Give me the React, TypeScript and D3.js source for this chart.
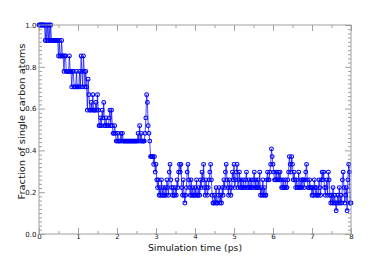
import * as d3 from 'd3';
import React, { useRef, useEffect } from 'react';

// fraction of single C atoms, stored as atom counts out of 27, one value every 0.02 ps
const TOTAL_ATOMS = 27;
const SAMPLE_DT = 0.02;

const atoms0to1 = [
  27, 27, 27, 27, 27, 27, 27, 27, 25, 27, 25, 27, 25, 27, 25, 27, 25, 25, 25, 25, 25, 25, 25, 25, 25,
  23, 25, 23, 23, 25, 23, 23, 21, 23, 23, 21, 21, 21, 21, 23, 21, 21, 19, 21, 21, 19, 19, 19, 21, 19,
];
const atoms1to2 = [
  19, 19, 21, 19, 23, 21, 19, 23, 21, 19, 21, 19, 16, 20, 18, 16, 16, 17, 16, 18, 16, 16, 16, 17, 16,
  18, 16, 14, 14, 15, 14, 16, 15, 17, 14, 14, 15, 14, 14, 14, 15, 16, 14, 16, 14, 13, 13, 14, 13, 12,
];
const atoms2to3 = [
  12, 13, 12, 12, 12, 13, 12, 13, 12, 12, 12, 12, 12, 12, 12, 12, 12, 12, 12, 12, 12, 12, 12, 12, 12,
  12, 12, 13, 12, 14, 12, 13, 12, 12, 12, 12, 13, 15, 18, 17, 14, 13, 12, 10, 10, 10, 10, 9, 10, 8,
];
const atoms3to4 = [
  9, 7, 6, 7, 5, 6, 5, 7, 5, 6, 5, 5, 6, 5, 7, 6, 5, 8, 9, 7, 6, 5, 6, 5, 5,
  6, 5, 7, 6, 8, 9, 8, 9, 6, 5, 7, 5, 4, 5, 6, 8, 9, 7, 6, 5, 7, 5, 6, 5, 5,
];
const atoms4to5 = [
  6, 5, 7, 5, 5, 6, 5, 7, 6, 8, 7, 9, 6, 5, 7, 6, 5, 6, 7, 8, 9, 7, 5, 4, 4,
  5, 4, 6, 4, 4, 5, 6, 4, 5, 4, 6, 5, 7, 6, 8, 9, 7, 6, 5, 7, 6, 5, 6, 8, 7,
];
const atoms5to6 = [
  9, 6, 7, 8, 9, 6, 7, 8, 6, 7, 6, 6, 7, 6, 6, 7, 8, 6, 6, 7, 6, 6, 7, 6, 6,
  7, 8, 6, 7, 6, 6, 7, 6, 8, 5, 6, 5, 7, 5, 6, 5, 5, 7, 8, 7, 7, 8, 9, 11, 10,
];
const atoms6to7 = [
  9, 8, 7, 7, 8, 7, 7, 8, 7, 8, 7, 6, 6, 7, 6, 6, 7, 6, 6, 7, 8, 10, 9, 8, 10,
  9, 7, 8, 7, 6, 7, 6, 6, 8, 6, 6, 7, 6, 7, 7, 6, 7, 8, 9, 7, 6, 6, 7, 6, 6,
];
const atoms7to8 = [
  5, 6, 5, 7, 6, 5, 6, 5, 5, 7, 6, 5, 7, 8, 7, 8, 6, 5, 6, 7, 5, 8, 7, 5, 4,
  5, 4, 6, 4, 5, 4, 3, 4, 5, 4, 6, 4, 5, 4, 7, 8, 6, 4, 5, 6, 3, 7, 9, 8, 4,
  4,
];

const xMajorTicks = [0, 1, 2, 3, 4, 5, 6, 7, 8];
const yMajorTicks = [0, 0.2, 0.4, 0.6, 0.8, 1.0];

function FractionChart({ width, height }) {
  const ref = useRef(null);

  useEffect(() => {
    draw();
  }, []);

  const draw = () => {
    const margin = { top: 25, right: 39, bottom: 26, left: 39 };
    const w = width - margin.left - margin.right;
    const h = height - margin.top - margin.bottom;
    const frame = '#a0a0a0';
    const font = '"DejaVu Sans", sans-serif';

    const counts = [
      ...atoms0to1, ...atoms1to2, ...atoms2to3, ...atoms3to4,
      ...atoms4to5, ...atoms5to6, ...atoms6to7, ...atoms7to8,
    ];
    const data = counts.map((n, i) => ({ t: i * SAMPLE_DT, f: n / TOTAL_ATOMS }));

    const xScale = d3.scaleLinear().domain([0, 8]).range([0, w]);
    const yScale = d3.scaleLinear().domain([0, 1]).range([h, 0]);

    const svg = d3.select(ref.current);
    svg.selectAll('*').remove();
    const g = svg.append('g').attr('transform', `translate(${margin.left}, ${margin.top})`);

    // minor ticks
    const xMinor = d3.range(0.5, 8, 1);
    const yMinor = d3.range(0, 1.0001, 0.02).filter(v => Math.abs(v * 5 - Math.round(v * 5)) > 1e-6);

    const axes = [
      { ax: d3.axisBottom(xScale).tickValues(xMajorTicks).tickSizeInner(-6).tickFormat(d3.format('d')).tickPadding(0.5), tr: `translate(0, ${h})` },
      { ax: d3.axisBottom(xScale).tickValues(xMinor).tickSizeInner(-3).tickFormat(''), tr: `translate(0, ${h})` },
      { ax: d3.axisTop(xScale).tickValues(xMajorTicks).tickSizeInner(-6).tickFormat(''), tr: 'translate(0, 0)' },
      { ax: d3.axisTop(xScale).tickValues(xMinor).tickSizeInner(-3).tickFormat(''), tr: 'translate(0, 0)' },
      { ax: d3.axisLeft(yScale).tickValues(yMajorTicks).tickSizeInner(-6).tickFormat(d3.format('.1f')).tickPadding(2.5), tr: 'translate(0, 0)' },
      { ax: d3.axisLeft(yScale).tickValues(yMinor).tickSizeInner(-3).tickFormat(''), tr: 'translate(0, 0)' },
      { ax: d3.axisRight(yScale).tickValues(yMajorTicks).tickSizeInner(-6).tickFormat(''), tr: `translate(${w}, 0)` },
      { ax: d3.axisRight(yScale).tickValues(yMinor).tickSizeInner(-3).tickFormat(''), tr: `translate(${w}, 0)` },
    ];

    axes.forEach(a => {
      const sel = g.append('g').attr('transform', a.tr).call(a.ax.tickSizeOuter(0));
      sel.select('.domain').remove();
      sel.selectAll('line').attr('stroke', frame).attr('stroke-width', 1);
      sel.selectAll('text')
        .attr('fill', '#111')
        .style('font-family', font)
        .style('font-size', '7px');
    });

    // DRAW DATA
    const line = d3.line()
      .x(d => xScale(d.t))
      .y(d => yScale(d.f));

    g.append('path')
      .datum(data)
      .attr('d', line)
      .attr('fill', 'none')
      .attr('stroke', '#0000ff')
      .attr('stroke-opacity', 0.7)
      .attr('stroke-width', 1);

    g.selectAll('.pt')
      .data(data)
      .enter()
      .append('circle')
      .attr('class', 'pt')
      .attr('cx', d => xScale(d.t))
      .attr('cy', d => yScale(d.f))
      .attr('r', 1.9)
      .attr('fill', 'none')
      .attr('stroke', '#0000ff')
      .attr('stroke-width', 1.05);

    // frame
    g.append('rect')
      .attr('x', 0).attr('y', 0)
      .attr('width', w).attr('height', h)
      .attr('fill', 'none')
      .attr('stroke', frame)
      .attr('stroke-width', 1);

    // labels
    svg.append('text')
      .attr('x', margin.left + w / 2)
      .attr('y', 250.5)
      .attr('text-anchor', 'middle')
      .attr('textLength', 94)
      .attr('lengthAdjust', 'spacingAndGlyphs')
      .style('font-family', font)
      .style('font-size', '9.2px')
      .attr('fill', '#111')
      .text('Simulation time (ps)');

    svg.append('text')
      .attr('transform', 'translate(25, 121.5) rotate(-90)')
      .attr('text-anchor', 'middle')
      .attr('textLength', 156)
      .attr('lengthAdjust', 'spacingAndGlyphs')
      .style('font-family', font)
      .style('font-size', '9.4px')
      .attr('fill', '#111')
      .text('Fraction of single carbon atoms');
  };

  return (
    <svg ref={ref} width={width} height={height}
      style={{ position: 'absolute', left: 0, top: 0, background: '#fff' }} />
  );
}

export default function App() {
  return <FractionChart width={390} height={260} />;
}
